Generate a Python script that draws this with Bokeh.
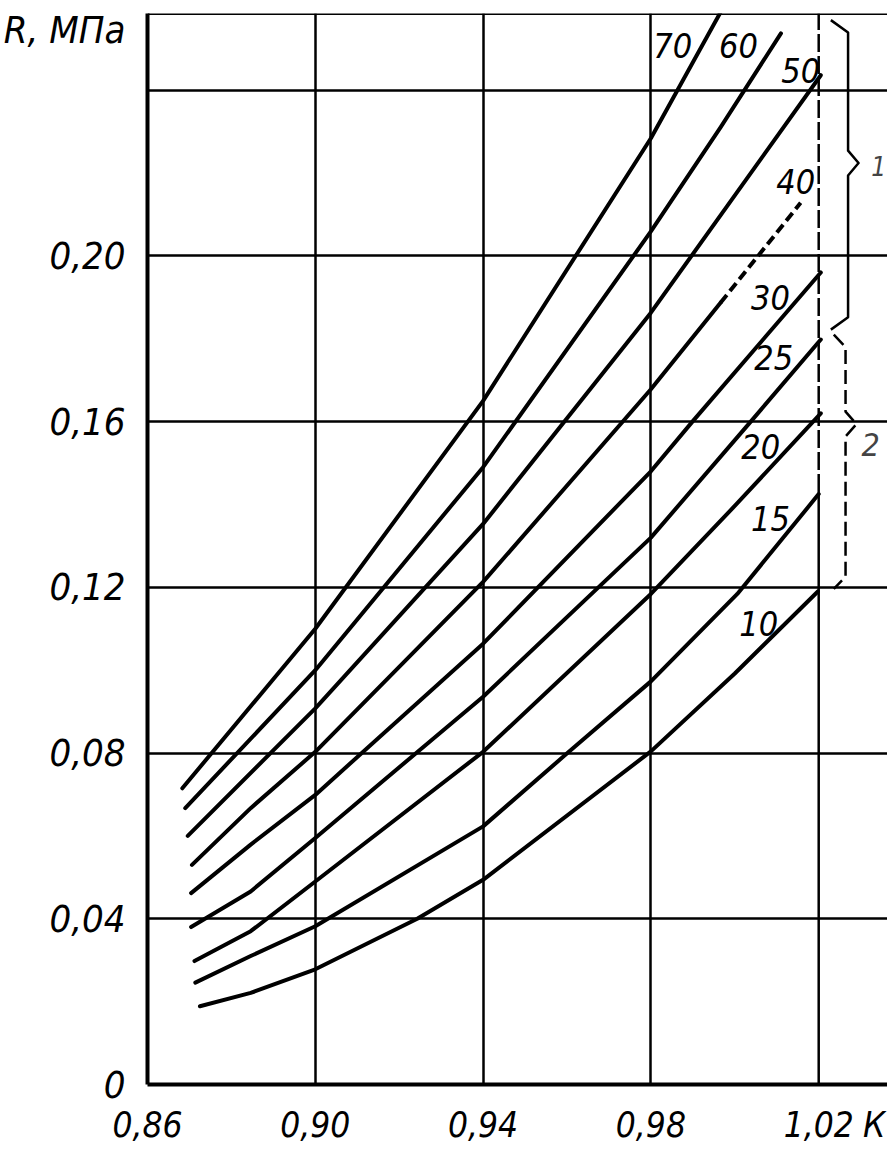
from bokeh.plotting import figure
from bokeh.models import FixedTicker, Span, Label, Range1d
from bokeh.embed import file_html
from bokeh.resources import INLINE

# ---- data (x = K, y = R, MPa) ----
x70 = [0.8683, 0.90, 0.94, 0.98, 0.9966]
y70 = [0.0715, 0.110, 0.165, 0.2284, 0.2588]

x60 = [0.8690, 0.90, 0.94, 0.98, 0.9966, 1.011]
y60 = [0.0667, 0.100, 0.149, 0.2059, 0.231, 0.2537]

x50 = [0.8696, 0.90, 0.94, 0.98, 1.0205]
y50 = [0.0600, 0.0908, 0.1353, 0.1863, 0.2436]

x40 = [0.8706, 0.8846, 0.90, 0.94, 0.98, 0.9966]
y40 = [0.0530, 0.0667, 0.0803, 0.1213, 0.1678, 0.1887]
x40_dash = [0.9966, 1.0157]
y40_dash = [0.1887, 0.2128]

x30 = [0.8704, 0.8846, 0.90, 0.94, 0.98, 0.9899, 1.0205]
y30 = [0.0462, 0.0579, 0.0699, 0.1064, 0.148, 0.160, 0.196]

x25 = [0.8704, 0.8846, 0.90, 0.94, 0.98, 1.0038, 1.0205]
y25 = [0.0380, 0.0466, 0.0595, 0.0936, 0.132, 0.160, 0.1798]

x20 = [0.8712, 0.8846, 0.90, 0.94, 0.98, 1.0006, 1.0205]
y20 = [0.0298, 0.0370, 0.0490, 0.0803, 0.1184, 0.1403, 0.162]

x15 = [0.8714, 0.8846, 0.90, 0.94, 0.9601, 0.98, 1.0006, 1.0200]
y15 = [0.0246, 0.0310, 0.0382, 0.0623, 0.0800, 0.0973, 0.1184, 0.1425]

x10 = [0.8725, 0.8846, 0.90, 0.9243, 0.94, 0.98, 1.0000, 1.0198]
y10 = [0.0189, 0.0221, 0.0278, 0.0400, 0.0494, 0.0804, 0.0992, 0.119]

curve_names = ["70", "60", "50", "40", "30", "25", "20", "15", "10"]
label_x = [0.9852, 1.0009, 1.0157, 1.0145, 1.0085, 1.0093, 1.0062, 1.0085, 1.0057]
label_y = [0.2508, 0.2508, 0.2448, 0.2179, 0.1900, 0.1755, 0.1540, 0.1365, 0.1112]

x_ticks = [0.86, 0.90, 0.94, 0.98, 1.02, 1.0332]
x_tick_labels = ["0,86", "0,90", "0,94", "0,98", "1,02", "К"]
y_ticks = [0.0, 0.04, 0.08, 0.12, 0.16, 0.20, 0.24, 0.2545]
y_tick_labels = ["0", "0,04", "0,08", "0,12", "0,16", "0,20", "", "R, МПа"]

FONT = "'DejaVu Sans Condensed', 'Liberation Sans', sans-serif"

p = figure(width=887, height=1147,
           x_range=Range1d(0.86, 1.0364), y_range=Range1d(0.0, 0.2585),
           output_backend="svg", toolbar_location=None,
           min_border_left=147, min_border_right=0, min_border_top=13,
           min_border_bottom=60)
p.outline_line_color = None
p.background_fill_color = "white"
p.border_fill_color = "white"

# axes
for ax in (p.xaxis[0], p.yaxis[0]):
    ax.axis_line_width = 4
    ax.axis_line_color = "black"
    ax.major_tick_line_color = None
    ax.minor_tick_line_color = None
    ax.major_label_text_font = FONT
    ax.major_label_text_font_style = "italic"
    ax.major_label_text_color = "black"

p.xaxis.major_label_text_font_size = "35px"
p.yaxis.major_label_text_font_size = "38px"
p.xaxis.ticker = FixedTicker(ticks=x_ticks)
p.xaxis.major_label_overrides = {t: s for t, s in zip(x_ticks, x_tick_labels)}
p.xaxis.major_label_standoff = 14
p.yaxis.ticker = FixedTicker(ticks=y_ticks)
p.yaxis.major_label_overrides = {t: s for t, s in zip(y_ticks, y_tick_labels)}
p.yaxis.major_label_standoff = 16

# grid
p.xgrid.ticker = FixedTicker(ticks=[0.90, 0.94, 0.98])
p.ygrid.ticker = FixedTicker(ticks=[0.04, 0.08, 0.12, 0.16, 0.20, 0.24])
for g in (p.xgrid[0], p.ygrid[0]):
    g.grid_line_color = "black"
    g.grid_line_width = 2.5
    g.grid_line_alpha = 1.0

# top border
p.add_layout(Span(location=0.2585, dimension="width", line_color="black", line_width=3))

# 1,02 grid line: solid lower part, broken upper part
p.segment(x0=[1.02], y0=[0.0], x1=[1.02], y1=[0.143], line_color="black", line_width=2.5)
p.segment(x0=[1.02], y0=[0.143], x1=[1.02], y1=[0.2585], line_color="black",
          line_width=2.5, line_dash="18 4")

# curves
lw = 4
for xs, ys in [(x70, y70), (x60, y60), (x50, y50), (x40, y40), (x30, y30),
               (x25, y25), (x20, y20), (x15, y15), (x10, y10)]:
    p.line(xs, ys, line_color="black", line_width=lw, line_join="round", line_cap="round")
p.line(x40_dash, y40_dash, line_color="black", line_width=lw, line_dash="10 5")

# curve labels
p.text(x=label_x, y=label_y, text=curve_names, text_font={"value": FONT},
       text_font_style="italic", text_font_size="34px", text_align="center",
       text_baseline="middle", text_color="black")

# braces
def brace(x0, xm, xt, ytop, ybot, ymid, dy, dash="solid"):
    xs = [x0, xm, xm, xt, xm, xm, x0]
    ys = [ytop, ytop - dy, ymid + dy, ymid, ymid - dy, ybot + dy, ybot]
    p.line(xs, ys, line_color="black", line_width=2.5, line_join="round",
           line_dash=dash)

brace(1.0229, 1.0270, 1.0295, 0.2569, 0.1822, 0.2224, 0.003)
brace(1.0236, 1.0264, 1.0290, 0.1810, 0.1196, 0.1594, 0.003, dash="14 6")

p.add_layout(Label(x=1.0343, y=0.2217, text="1", text_font=FONT, text_font_style="italic",
                   text_font_size="26px", text_align="center", text_baseline="middle"))
p.add_layout(Label(x=1.0324, y=0.1545, text="2", text_font=FONT, text_font_style="italic",
                   text_font_size="32px", text_align="center", text_baseline="middle"))

open("out.html", "w").write(file_html(p, INLINE))
